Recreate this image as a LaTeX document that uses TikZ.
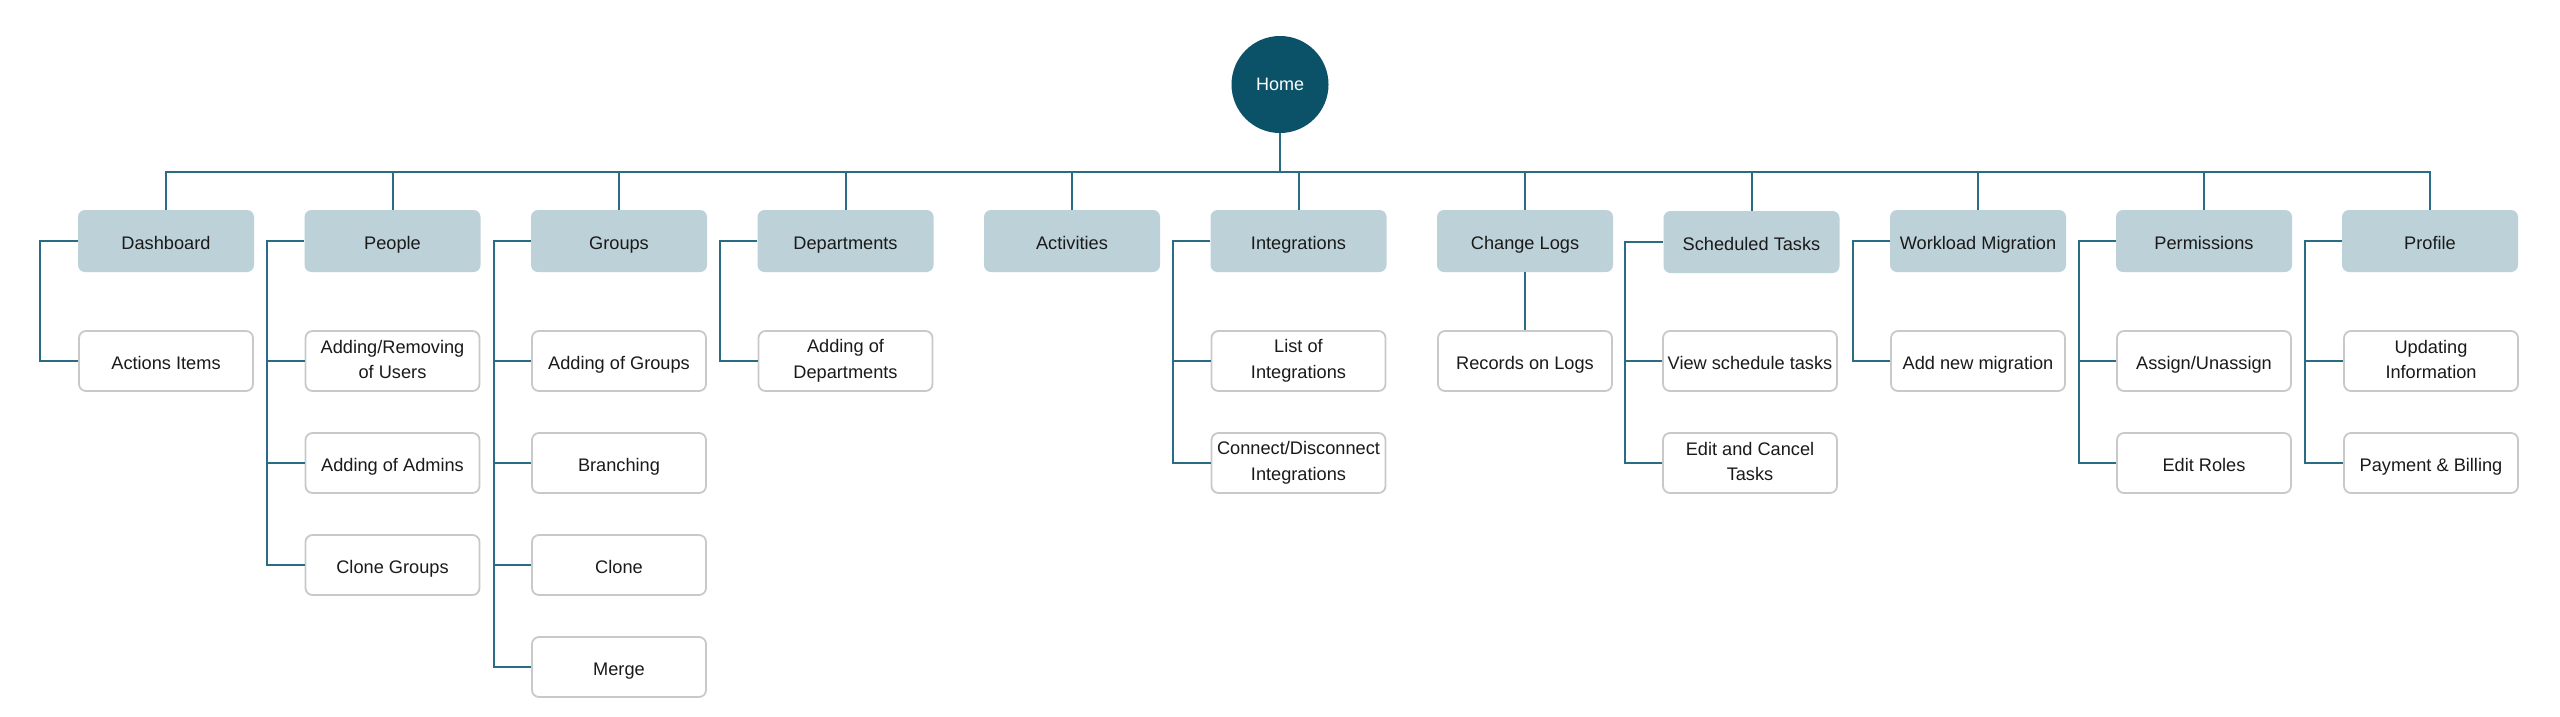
\documentclass[tikz,border=0pt]{standalone}
\usepackage{fontspec}
\setmainfont{Liberation Sans}
\definecolor{homefill}{HTML}{0B5268}
\definecolor{linecol}{HTML}{2A6C84}
\definecolor{topfill}{HTML}{BDD1D8}
\definecolor{subborder}{HTML}{C9C9C9}
\definecolor{txt}{HTML}{1A1A1A}
\newcommand\topstrut{\rule{0pt}{20pt}}
\newcommand\botstrut{\rule[-3.4pt]{0pt}{3.4pt}}
\newcommand\hometop{\rule{0pt}{18pt}}
\newcommand\homebot{\rule[-5.6pt]{0pt}{5.6pt}}
\begin{document}
\begin{tikzpicture}[x=1pt,y=-1pt,
  lbl/.style={font=\fontsize{18.2}{25.5}\selectfont, align=center, text=txt, inner sep=0pt,
    execute at begin node=\topstrut, execute at end node=\botstrut},
  topbox/.style={lbl, rectangle, rounded corners=7pt, fill=topfill, minimum width=176pt, minimum height=62pt},
  subbox/.style={lbl, rectangle, rounded corners=7pt, draw=subborder, line width=1.8pt, fill=white, minimum width=174pt, minimum height=60pt},
  conn/.style={draw=linecol, line width=2pt}]
\useasboundingbox (0,0) rectangle (2560,716);
\fill[white] (0,0) rectangle (2560,716);

\node[circle, fill=homefill, minimum size=97pt, inner sep=0pt, text=white, font=\fontsize{18}{25}\selectfont,
  execute at begin node=\hometop, execute at end node=\homebot] (home) at (1280,84.5) {Home};
\coordinate (busy) at (0,172);

% top row
\node[topbox] (dash) at (166,241) {Dashboard};
\node[topbox] (peo) at (392.5,241) {People};
\node[topbox] (grp) at (619,241) {Groups};
\node[topbox] (dep) at (845.5,241) {Departments};
\node[topbox] (act) at (1072,241) {Activities};
\node[topbox] (intg) at (1298.5,241) {Integrations};
\node[topbox] (clog) at (1525,241) {Change Logs};
\node[topbox] (sched) at (1751.5,242) {Scheduled Tasks};
\node[topbox] (wmig) at (1978,241) {Workload Migration};
\node[topbox] (perm) at (2204,241) {Permissions};
\node[topbox] (prof) at (2430,241) {Profile};

% children
\node[subbox] (dashA) at (166,361) {Actions Items};
\node[subbox] (peoA) at (392.5,361) {Adding/Removing\\of Users};
\node[subbox] (peoB) at (392.5,463) {Adding of Admins};
\node[subbox] (peoC) at (392.5,565) {Clone Groups};
\node[subbox] (grpA) at (619,361) {Adding of Groups};
\node[subbox] (grpB) at (619,463) {Branching};
\node[subbox] (grpC) at (619,565) {Clone};
\node[subbox] (grpD) at (619,667) {Merge};
\node[subbox] (depA) at (845.5,361) {Adding of\\Departments};
\node[subbox] (intgA) at (1298.5,361) {List of\\Integrations};
\node[subbox] (intgB) at (1298.5,463) {Connect/Disconnect\\Integrations};
\node[subbox] (clogA) at (1525,361) {Records on Logs};
\node[subbox] (schedA) at (1750,361) {View schedule tasks};
\node[subbox] (schedB) at (1750,463) {Edit and Cancel\\Tasks};
\node[subbox] (wmigA) at (1978,361) {Add new migration};
\node[subbox] (permA) at (2204,361) {Assign/Unassign};
\node[subbox] (permB) at (2204,463) {Edit Roles};
\node[subbox] (profA) at (2431,361) {Updating\\Information};
\node[subbox] (profB) at (2431,463) {Payment \& Billing};

% bus
\draw[conn] (home.south) -- (home.south |- busy);
\draw[conn] (dash.north) -- (dash.north |- busy) -- (prof.north |- busy) -- (prof.north);
\foreach \n in {peo,grp,dep,act,intg,clog,sched,wmig,perm}
  \draw[conn] (\n.north) -- (\n.north |- busy);

% side connectors
\coordinate (dashL) at ([xshift=-38pt]dash.west);
\draw[conn] (dash.west) -- (dashL) |- (dashA.west);

\coordinate (peoL) at ([xshift=-37pt]peo.west);
\draw[conn] (peo.west) -- (peoL) |- (peoC.west);
\draw[conn] (peoA.west) -- (peoA.west -| peoL);
\draw[conn] (peoB.west) -- (peoB.west -| peoL);

\coordinate (grpL) at ([xshift=-37pt]grp.west);
\draw[conn] (grp.west) -- (grpL) |- (grpD.west);
\draw[conn] (grpA.west) -- (grpA.west -| grpL);
\draw[conn] (grpB.west) -- (grpB.west -| grpL);
\draw[conn] (grpC.west) -- (grpC.west -| grpL);

\coordinate (depL) at ([xshift=-37pt]dep.west);
\draw[conn] (dep.west) -- (depL) |- (depA.west);

\coordinate (intgL) at ([xshift=-37pt]intg.west);
\draw[conn] (intg.west) -- (intgL) |- (intgB.west);
\draw[conn] (intgA.west) -- (intgA.west -| intgL);

\draw[conn] (clog.south) -- (clogA.north);

\coordinate (schedL) at ([xshift=-38pt]sched.west);
\draw[conn] (sched.west) -- (schedL) |- (schedB.west);
\draw[conn] (schedA.west) -- (schedA.west -| schedL);

\coordinate (wmigL) at ([xshift=-37pt]wmig.west);
\draw[conn] (wmig.west) -- (wmigL) |- (wmigA.west);

\coordinate (permL) at ([xshift=-37pt]perm.west);
\draw[conn] (perm.west) -- (permL) |- (permB.west);
\draw[conn] (permA.west) -- (permA.west -| permL);

\coordinate (profL) at ([xshift=-37pt]prof.west);
\draw[conn] (prof.west) -- (profL) |- (profB.west);
\draw[conn] (profA.west) -- (profA.west -| profL);
\end{tikzpicture}
\end{document}
